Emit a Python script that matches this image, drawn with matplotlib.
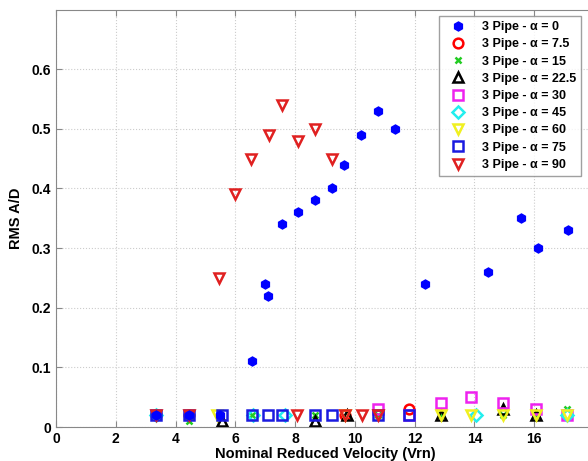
import numpy as np
import matplotlib
matplotlib.use('Agg')
import matplotlib.pyplot as plt

matplotlib.rcParams['font.family'] = ['Liberation Sans', 'DejaVu Sans']
matplotlib.rcParams['font.weight'] = 'bold'

# alpha = 0
x_a0 = [3.35, 4.45, 5.5, 6.55, 7.0, 7.1, 7.57, 8.1, 8.66, 9.22, 9.64, 10.21, 10.78, 11.34, 12.33, 14.44, 15.55, 16.11, 17.12]
y_a0 = [0.02, 0.02, 0.02, 0.11, 0.24, 0.22, 0.34, 0.36, 0.38, 0.40, 0.44, 0.49, 0.53, 0.50, 0.24, 0.26, 0.35, 0.30, 0.33]
# alpha = 7.5
x_a7 = [3.35, 4.45, 9.67, 11.82]
y_a7 = [0.02, 0.02, 0.02, 0.03]
# alpha = 15
x_a15 = [3.35, 4.45, 6.55, 8.66, 10.78, 12.88, 14.96, 16.05, 17.11]
y_a15 = [0.02, 0.01, 0.02, 0.02, 0.02, 0.02, 0.02, 0.02, 0.03]
# alpha = 22.5
x_a22 = [5.55, 8.66, 9.75, 12.88, 14.96, 16.05]
y_a22 = [0.01, 0.01, 0.02, 0.02, 0.03, 0.02]
# alpha = 30
x_a30 = [10.78, 11.82, 12.88, 13.9, 14.96, 16.05, 17.11]
y_a30 = [0.03, 0.02, 0.04, 0.05, 0.04, 0.03, 0.02]
# alpha = 45
x_a45 = [3.35, 6.6, 7.65, 14.05, 17.11]
y_a45 = [0.02, 0.02, 0.02, 0.02, 0.02]
# alpha = 60
x_a60 = [5.4, 9.67, 12.88, 13.9, 14.96, 16.05, 17.11]
y_a60 = [0.02, 0.02, 0.02, 0.02, 0.02, 0.02, 0.02]
# alpha = 75
x_a75 = [3.35, 4.45, 5.55, 6.55, 7.1, 7.57, 8.66, 9.22, 10.78, 11.82]
y_a75 = [0.02, 0.02, 0.02, 0.02, 0.02, 0.02, 0.02, 0.02, 0.02, 0.02]
# alpha = 90
x_a90 = [3.35, 4.45, 5.44, 5.99, 6.53, 7.11, 7.57, 8.1, 8.66, 9.22, 8.07, 9.67, 10.24, 10.78]
y_a90 = [0.02, 0.02, 0.25, 0.39, 0.45, 0.49, 0.54, 0.48, 0.50, 0.45, 0.02, 0.02, 0.02, 0.02]

fig = plt.figure(figsize=(5.88, 4.61), dpi=100)
ax = fig.add_axes([56/588, 34/461, 538/588, 417/461])

ax.plot(x_a0, y_a0, 'h', color='b', mfc='b', ms=6.5, ls='none', label='3 Pipe - α = 0', zorder=3)
ax.plot(x_a7, y_a7, 'o', color='r', mfc='none', ms=7, mew=1.8, ls='none', label='3 Pipe - α = 7.5')
ax.plot(x_a15, y_a15, 'x', color='#22cc22', ms=5, mew=1.8, ls='none', label='3 Pipe - α = 15')
ax.plot(x_a22, y_a22, '^', color='k', mfc='none', ms=7, mew=1.8, ls='none', label='3 Pipe - α = 22.5')
ax.plot(x_a30, y_a30, 's', color='#ee22ee', mfc='none', ms=7, mew=1.8, ls='none', label='3 Pipe - α = 30')
ax.plot(x_a45, y_a45, 'D', color='#22eeee', mfc='none', ms=6, mew=1.8, ls='none', label='3 Pipe - α = 45')
ax.plot(x_a60, y_a60, 'v', color='#f0f020', mfc='none', ms=7, mew=1.8, ls='none', label='3 Pipe - α = 60')
ax.plot(x_a75, y_a75, 's', color='#1a1ae0', mfc='none', ms=7, mew=1.8, ls='none', label='3 Pipe - α = 75')
ax.plot(x_a90, y_a90, 'v', color='#e02020', mfc='none', ms=7.5, mew=1.8, ls='none', label='3 Pipe - α = 90')

ax.set_xlim(0, 18)
ax.set_ylim(0, 0.699)
ax.set_xticks([0, 2, 4, 6, 8, 10, 12, 14, 16])
ax.set_yticks([0, 0.1, 0.2, 0.3, 0.4, 0.5, 0.6])
ax.set_yticklabels(['0', '0.1', '0.2', '0.3', '0.4', '0.5', '0.6'])
ax.tick_params(labelsize=10, direction='in', length=4, color='#888888', top=True, right=True)
for lab in ax.get_xticklabels() + ax.get_yticklabels():
    lab.set_fontweight('bold')
ax.grid(True, ls=':', color='#cccccc', lw=0.8)
for s in ax.spines.values():
    s.set_color('#888888')

ax.set_xlabel('Nominal Reduced Velocity (Vrn)', fontsize=10.5, fontweight='bold', labelpad=1)
ax.set_ylabel('RMS A/D', fontsize=10.5, fontweight='bold', labelpad=6)

leg = ax.legend(loc='upper left', fontsize=9, frameon=True, fancybox=False, edgecolor='#888888',
                handlelength=2.2, handletextpad=0.8, labelspacing=0.42, borderpad=0.4,
                borderaxespad=0, numpoints=1)
leg.set_bbox_to_anchor((439/588, 1 - 16/461), transform=fig.transFigure)
for t in leg.get_texts():
    t.set_fontweight('bold')

fig.savefig('out.png', dpi=100)
